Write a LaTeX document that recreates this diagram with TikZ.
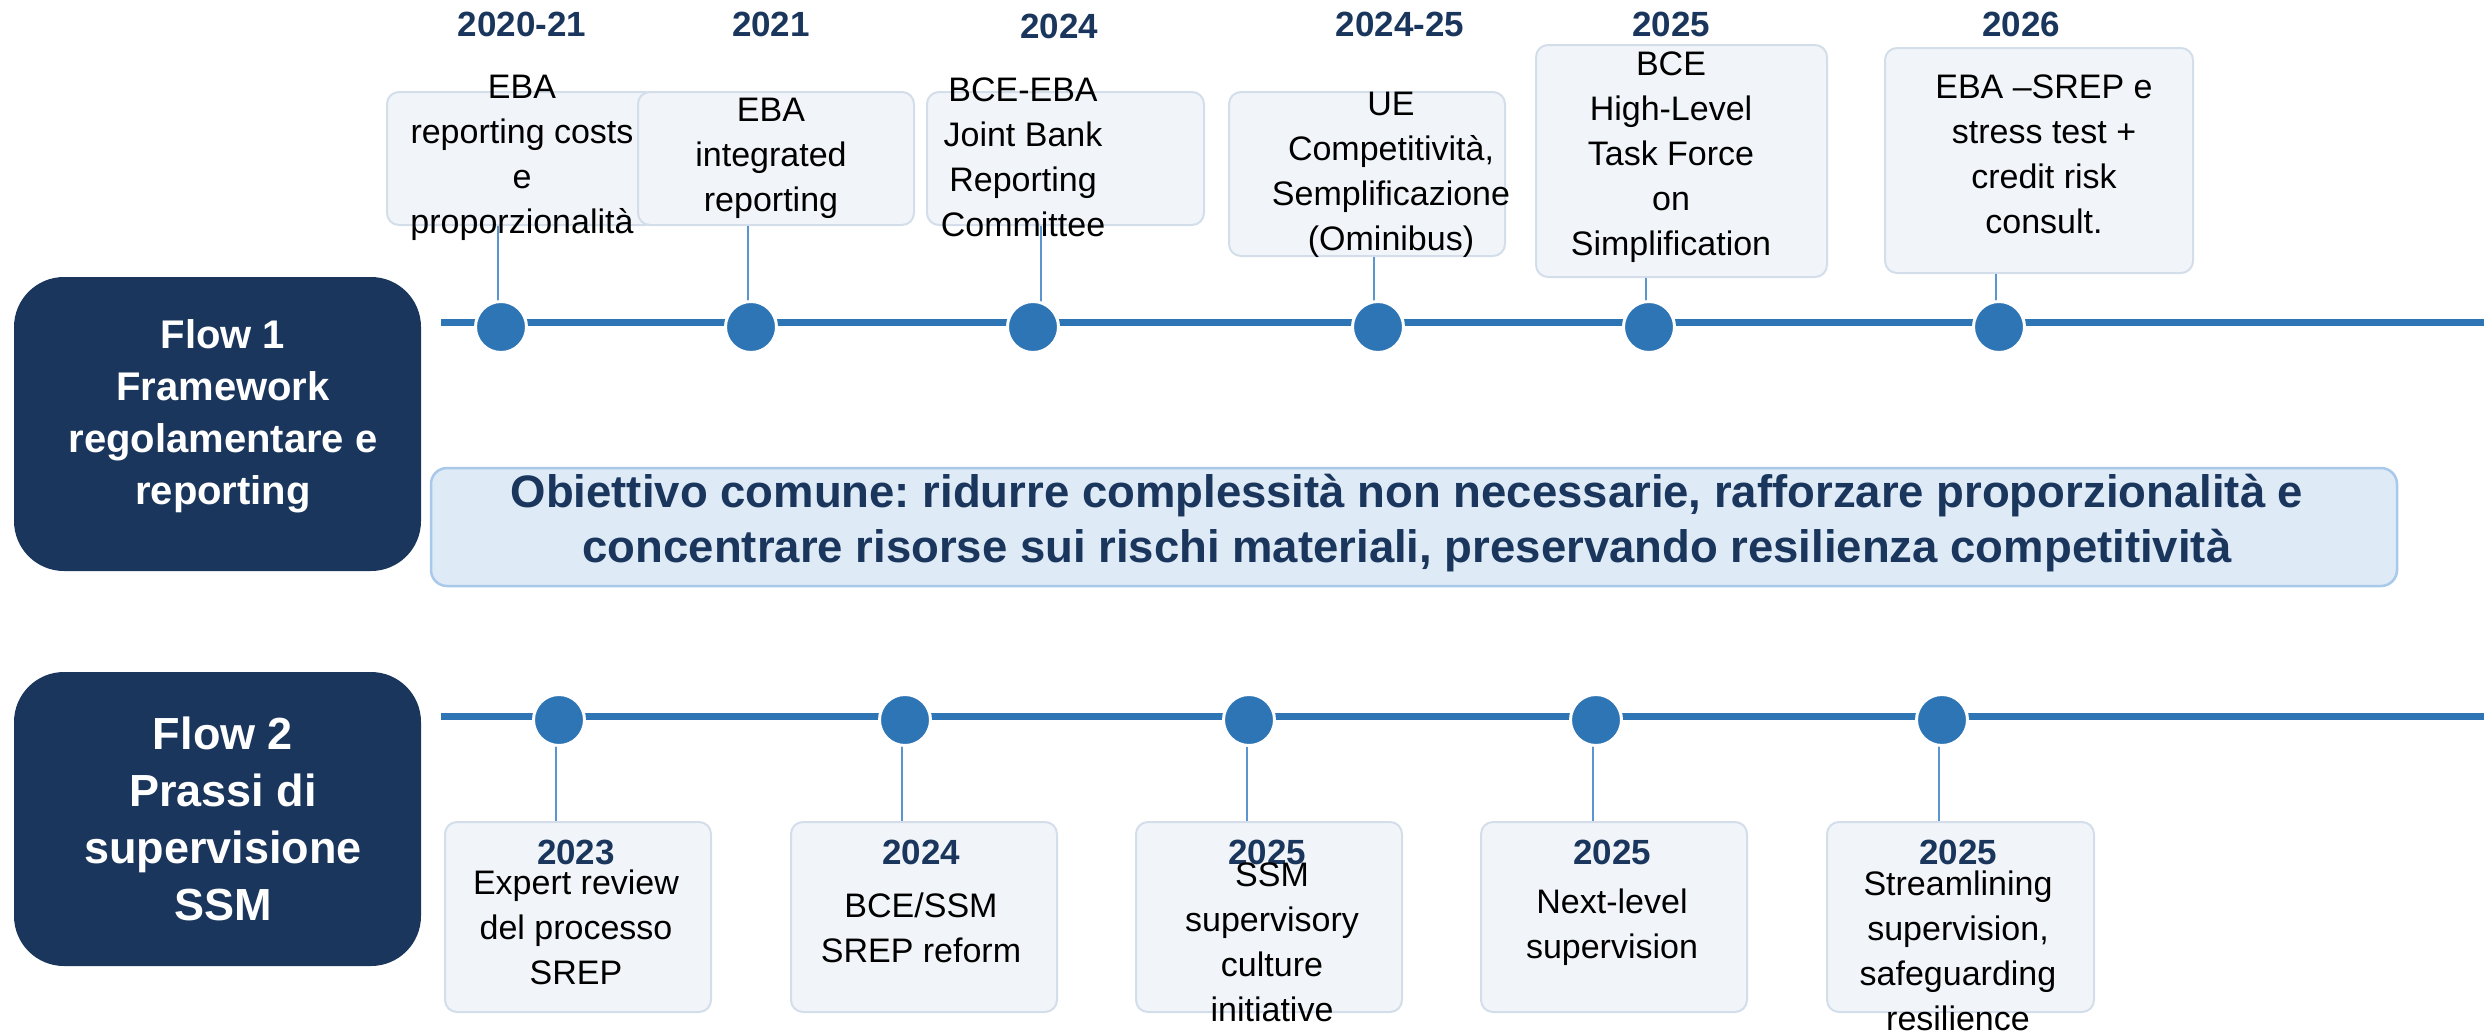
\documentclass[tikz,border=0pt]{standalone}
\usepackage{fontspec}
\setmainfont{Liberation Sans}
\frenchspacing
\definecolor{navy}{HTML}{1A365D}
\definecolor{dotblue}{HTML}{2E75B6}
\definecolor{connblue}{HTML}{5B95D0}
\definecolor{boxfill}{HTML}{F1F5F9}
\definecolor{boxline}{HTML}{D3DEEA}
\definecolor{objfill}{HTML}{DEEAF6}
\definecolor{objline}{HTML}{A8C9EA}
\tikzset{
  flowbox/.style={fill=navy, draw=none, rounded corners=50pt, inner sep=0},
  flowtext/.style={text=white, align=center, inner sep=0},
  evbox/.style={fill=boxfill, draw=boxline, line width=2pt, rounded corners=12pt, inner sep=0},
  evtext/.style={font=\fontsize{34}{45}\selectfont, align=center, text=black, inner sep=0},
  yeartext/.style={font=\fontsize{35}{42}\selectfont\bfseries, text=navy, inner sep=0},
  dot/.style={circle, fill=dotblue, draw=white, line width=3pt, minimum size=51pt, inner sep=0},
  tline/.style={line width=7pt, draw=dotblue},
  conn/.style={line width=2.2pt, draw=connblue},
  objbox/.style={fill=objfill, draw=objline, line width=2.5pt, rounded corners=16pt, inner sep=0},
  objtext/.style={font=\fontsize{45.5}{55}\selectfont\bfseries, text=navy, align=center, inner sep=0}
}
\begin{document}
\begin{tikzpicture}[x=1pt,y=-1pt]
\useasboundingbox (0,0) rectangle (2484,1031);

% ---------- Flow labels ----------
\node[flowbox, minimum width=407pt, minimum height=294pt] (f1) at (217.5,424) {};
\node[flowtext, font=\fontsize{40}{52}\selectfont\bfseries] (f1t) at (223,416)
  {Flow 1\\Framework\\regolamentare e\\reporting};
\node[flowbox, minimum width=407pt, minimum height=294pt] (f2) at (217.5,819) {};
\node[flowtext, font=\fontsize{45}{57}\selectfont\bfseries] (f2t) at (223,819)
  {Flow 2\\Prassi di\\supervisione\\SSM};

% ---------- Timelines ----------
\coordinate (l1s) at (441,322);
\coordinate (l1e) at (2484,322);
\coordinate (l2s) at (441,716);
\coordinate (l2e) at (2484,716);
\draw[tline] (l1s) -- (l1e);
\draw[tline] (l2s) -- (l2e);

% ---------- Flow 1 years ----------
\node[yeartext] (y1) at (522,24) {2020-21};
\node[yeartext] (y2) at (771,24) {2021};
\node[yeartext] (y3) at (1059,26) {2024};
\node[yeartext] (y4) at (1400,24) {2024-25};
\node[yeartext] (y5) at (1671,24) {2025};
\node[yeartext] (y6) at (2021,24) {2026};

% ---------- Flow 1 boxes ----------
\node[evbox, minimum width=270pt, minimum height=133pt] (b1) at (522,158.5) {};
\node[evtext] (t1) at (522,157.5) {EBA\\reporting costs\\e\\proporzionalità};
\node[evbox, minimum width=276pt, minimum height=133pt] (b2) at (776,158.5) {};
\node[evtext] (t2) at (771,158) {EBA\\integrated\\reporting};
\node[evbox, minimum width=277pt, minimum height=133pt] (b3) at (1065.5,158.5) {};
\node[evtext] (t3) at (1023,157.5) {BCE-EBA\\Joint Bank\\Reporting\\Committee};
\node[evbox, minimum width=276pt, minimum height=164pt] (b4) at (1367,174) {};
\node[evtext] (t4) at (1391,174.5) {UE\\Competitività,\\Semplificazione\\(Ominibus)};
\node[evbox, minimum width=291pt, minimum height=232pt] (b5) at (1681.5,161) {};
\node[evtext] (t5) at (1671,157) {BCE\\High-Level\\Task Force\\on\\Simplification};
\node[evbox, minimum width=308pt, minimum height=225pt] (b6) at (2039,160.5) {};
\node[evtext] (t6) at (2044,154.5) {EBA –SREP e\\stress test +\\credit risk\\consult.};

% ---------- Flow 1 dots ----------
\coordinate (d1) at (501,327);
\coordinate (d2) at (751,327);
\coordinate (d3) at (1033,327);
\coordinate (d4) at (1378,327);
\coordinate (d5) at (1649,327);
\coordinate (d6) at (1999,327);
\draw[conn] ([xshift=-3pt]d1 |- b1.south) -- ([xshift=-3pt]d1);
\draw[conn] ([xshift=-3pt]d2 |- b2.south) -- ([xshift=-3pt]d2);
\draw[conn] ([xshift=8pt]d3 |- b3.south) -- ([xshift=8pt]d3);
\draw[conn] ([xshift=-4pt]d4 |- b4.south) -- ([xshift=-4pt]d4);
\draw[conn] ([xshift=-3pt]d5 |- b5.south) -- ([xshift=-3pt]d5);
\draw[conn] ([xshift=-3pt]d6 |- b6.south) -- ([xshift=-3pt]d6);
\foreach \d in {d1,d2,d3,d4,d5,d6} \node[dot] (n\d) at (\d) {};

% ---------- Common objective ----------
\node[objbox, minimum width=1966pt, minimum height=118pt] (obj) at (1414,527) {};
\node[objtext] (objt) at (1407,523)
  {Obiettivo comune: ridurre complessità non necessarie, rafforzare proporzionalità e\\concentrare risorse sui rischi materiali, preservando resilienza competitività};

% ---------- Flow 2 boxes ----------
\node[evbox, minimum width=266pt, minimum height=190pt] (c1) at (578,917) {};
\node[evbox, minimum width=266pt, minimum height=190pt] (c2) at (924,917) {};
\node[evbox, minimum width=266pt, minimum height=190pt] (c3) at (1269,917) {};
\node[evbox, minimum width=266pt, minimum height=190pt] (c4) at (1614,917) {};
\node[evbox, minimum width=267pt, minimum height=190pt] (c5) at (1960.5,917) {};

\node[yeartext] (z1) at (576,852) {2023};
\node[yeartext] (z2) at (921,852) {2024};
\node[yeartext] (z3) at (1267,852) {2025};
\node[yeartext] (z4) at (1612,852) {2025};
\node[yeartext] (z5) at (1958,852) {2025};

\node[evtext] (s1) at (576,927.5) {Expert review\\del processo\\SREP};
\node[evtext] (s2) at (921,927.5) {BCE/SSM\\SREP reform};
\node[evtext] (s3) at (1272,942.5) {SSM\\supervisory\\culture\\initiative};
\node[evtext] (s4) at (1612,927.5) {Next-level\\supervision};
\node[evtext] (s5) at (1958,950.5) {Streamlining\\supervision,\\safeguarding\\resilience};

% ---------- Flow 2 dots ----------
\coordinate (e1) at (559,720);
\coordinate (e2) at (905,720);
\coordinate (e3) at (1249,720);
\coordinate (e4) at (1596,720);
\coordinate (e5) at (1942,720);
\draw[conn] ([xshift=-3pt]e1) -- ([xshift=-3pt]e1 |- c1.north);
\draw[conn] ([xshift=-3pt]e2) -- ([xshift=-3pt]e2 |- c2.north);
\draw[conn] ([xshift=-2pt]e3) -- ([xshift=-2pt]e3 |- c3.north);
\draw[conn] ([xshift=-3pt]e4) -- ([xshift=-3pt]e4 |- c4.north);
\draw[conn] ([xshift=-3pt]e5) -- ([xshift=-3pt]e5 |- c5.north);
\foreach \e in {e1,e2,e3,e4,e5} \node[dot] (n\e) at (\e) {};
\end{tikzpicture}
\end{document}
